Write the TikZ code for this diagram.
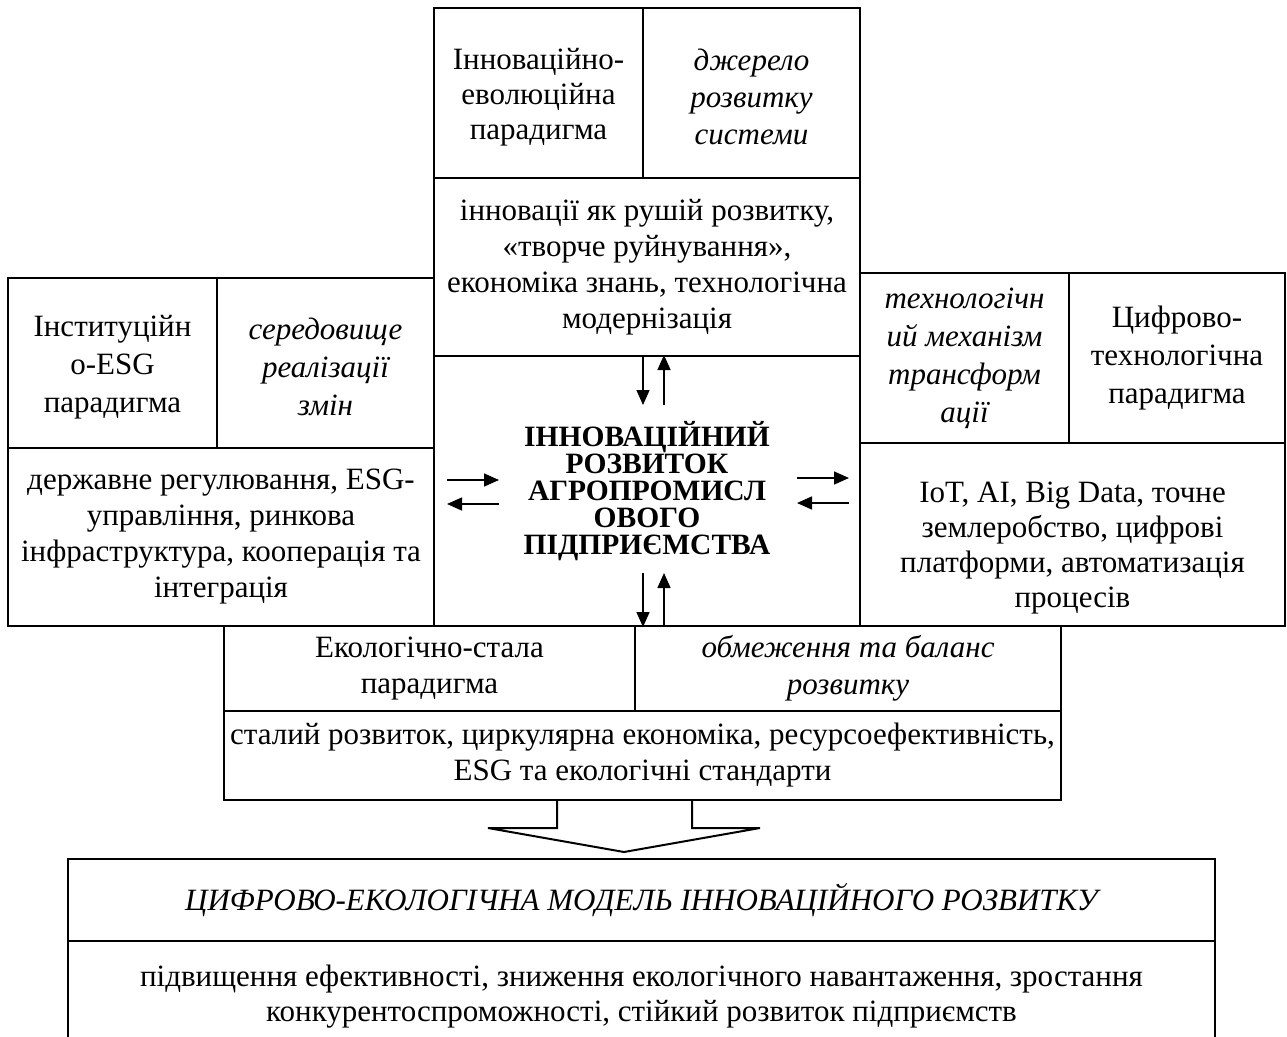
\documentclass[tikz,border=0pt]{standalone}
\usepackage{fontspec}
\setmainfont{Liberation Serif}
\usetikzlibrary{arrows.meta,calc}
\tikzset{
  cell/.style={draw, line width=2pt, inner sep=0pt, align=center, anchor=center,
    font=\fontsize{31}{36}\selectfont},
  celli/.style={cell, font=\fontsize{31}{37}\selectfont\itshape},
  txt/.style={inner sep=0pt, align=center, font=\fontsize{31}{35}\selectfont},
  flow/.style={line width=1.5pt, -{Triangle[length=15pt,width=13pt]}},
  bigarrow/.style={draw, line width=2pt, fill=white, line join=miter}
}
\begin{document}
\begin{tikzpicture}[x=1pt,y=-1pt]
\useasboundingbox (0,0) rectangle (1287,1036);
% top
\node[cell, minimum width=209pt, minimum height=170pt] (tl) at (538.5,93) {};
\node[txt, font=\fontsize{31}{35}\selectfont] (tlt) at ($(tl.center)+(0,4)$) {Інноваційно-\\еволюційна\\парадигма};
\node[cell, minimum width=217pt, minimum height=170pt] (tr) at (751.5,93) {};
\node[txt, font=\fontsize{31}{37}\selectfont\itshape] (trt) at ($(tr.center)+(0,4)$) {джерело\\розвитку\\системи};
\node[cell, minimum width=426pt, minimum height=178pt] (tm) at (647,267) {інновації як рушій розвитку,\\«творче руйнування»,\\економіка знань, технологічна\\модернізація};
% centre
\node[cell, minimum width=426pt, minimum height=270pt, font=\fontsize{29.5}{27}\selectfont\bfseries] (c) at (647,491) {ІННОВАЦІЙНИЙ\\РОЗВИТОК\\АГРОПРОМИСЛ\\ОВОГО\\ПІДПРИЄМСТВА};
% left
\node[cell, minimum width=209pt, minimum height=170pt] (ll) at (112.5,363) {};
\node[txt, font=\fontsize{31}{38}\selectfont] (llt) at ($(ll.center)+(0,4)$) {Інституційн\\о-ESG\\парадигма};
\node[cell, minimum width=217pt, minimum height=170pt] (lr) at (325.5,363) {};
\node[txt, font=\fontsize{31}{38}\selectfont\itshape] (lrt) at ($(lr.center)+(0,4)$) {середовище\\реалізації\\змін};
\node[cell, minimum width=426pt, minimum height=178pt] (lb) at (221,537) {державне регулювання, ESG-\\управління, ринкова\\інфраструктура, кооперація та\\інтеграція};
% right
\node[celli, minimum width=209pt, minimum height=170pt, font=\fontsize{31}{38}\selectfont\itshape] (rl) at (964.5,358) {технологічн\\ий механізм\\трансформ\\ації};
\node[cell, minimum width=216pt, minimum height=170pt, font=\fontsize{31}{38}\selectfont] (rr) at (1177,358) {Цифрово-\\технологічна\\парадигма};
\node[cell, minimum width=425pt, minimum height=183pt] (rb) at (1072.5,534.5) {};
\node[txt] (rbt) at ($(rb.center)+(0,14)$) {IoT, AI, Big Data, точне\\землеробство, цифрові\\платформи, автоматизація\\процесів};
% eco
\node[cell, minimum width=411pt, minimum height=85pt] (el) at (429.5,668.5) {Екологічно-стала\\парадигма};
\node[celli, minimum width=426pt, minimum height=85pt] (er) at (848,668.5) {обмеження та баланс\\розвитку};
\node[cell, minimum width=837pt, minimum height=89pt] (eb) at (642.5,755.5) {сталий розвиток, циркулярна економіка, ресурсоефективність,\\ESG та екологічні стандарти};
% final
\node[celli, minimum width=1147pt, minimum height=82pt] (ft) at (641.5,900) {ЦИФРОВО-ЕКОЛОГІЧНА МОДЕЛЬ ІННОВАЦІЙНОГО РОЗВИТКУ};
\node[cell, minimum width=1147pt, minimum height=112pt, font=\fontsize{31}{35}\selectfont] (fb) at (641.5,997) {підвищення ефективності, зниження екологічного навантаження, зростання\\конкурентоспроможності, стійкий розвиток підприємств};
% big arrow
\draw[bigarrow] ($(eb.south)+(-85.5,0)$) -- ++(0,27) -- ++(-69,0) -- ($(ft.north)+(-17.5,-6)$)
  -- ($(eb.south)+(117.5,27)$) -- ++(-68,0) -- ($(eb.south)+(49.5,0)$);
% arrows in centre
\coordinate (t1) at ($(c.north)+(-4,0)$);
\coordinate (t2) at ($(c.north)+(17,0)$);
\draw[flow] (t1) -- ++(0,50);
\draw[flow] ($(t2)+(0,50)$) -- (t2);
\coordinate (b1) at ($(c.south)+(-4,0)$);
\coordinate (b2) at ($(c.south)+(17,0)$);
\draw[flow] ($(b1)+(0,-54)$) -- (b1);
\draw[flow] (b2) -- ++(0,-54);
\coordinate (l1) at ($(c.west)+(14,-11)$);
\coordinate (l2) at ($(c.west)+(14,13)$);
\draw[flow] (l1) -- ++(52,0);
\draw[flow] ($(l2)+(52,0)$) -- (l2);
\coordinate (r1) at ($(c.east)+(-12,-13)$);
\coordinate (r2) at ($(c.east)+(-12,12)$);
\draw[flow] ($(r1)+(-52,0)$) -- (r1);
\draw[flow] (r2) -- ++(-52,0);
\end{tikzpicture}
\end{document}
